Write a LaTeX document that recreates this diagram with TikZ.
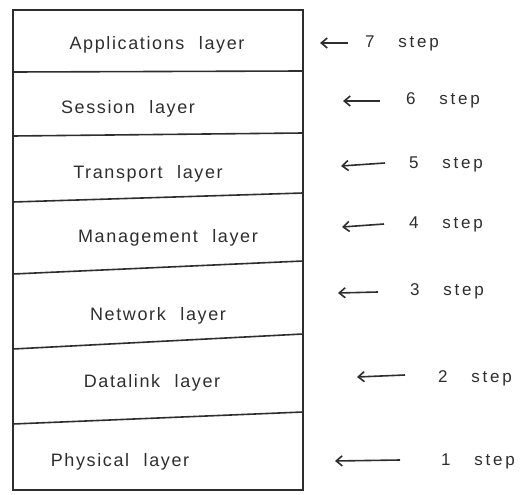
\documentclass[tikz,border=0pt]{standalone}
\usepackage{fontspec}
\setmainfont{Liberation Sans}
\newfontfamily\layerfont[LetterSpace=9,WordSpace=2.2]{Liberation Sans}
\newfontfamily\stepfont[LetterSpace=16,WordSpace=3.2]{Liberation Sans}
\usetikzlibrary{arrows.meta}
\definecolor{ink}{HTML}{2E2E2E}
\tikzset{
  layertext/.style={text=ink, font=\layerfont\fontsize{18}{20}\selectfont, inner sep=0pt},
  steptext/.style={text=ink, font=\stepfont\fontsize{17}{19}\selectfont, inner sep=0pt},
  rule/.style={draw=ink, line width=1.6pt},
  backarrow/.style={draw=ink, line width=1.6pt, -{Straight Barb[length=6pt,width=10pt]}}
}
\begin{document}
\begin{tikzpicture}[x=1pt,y=-1pt]
\useasboundingbox (0,0) rectangle (525,495);

% outer frame of the layer stack
\draw[rule] (13,10) -- (303,10) -- (303,490) -- (13,490) -- cycle;

% dividers between layers
\draw[rule] (13,72) -- (303,71);
\draw[rule] (13,136) -- (303,133);
\draw[rule] (13,202) -- (303,193);
\draw[rule] (13,274) -- (303,261);
\draw[rule] (13,349) -- (303,334);
\draw[rule] (13,424) -- (303,412);

% layer names
\node[layertext] (l7) at (157,45) {Applications layer};
\node[layertext] (l6) at (128,109) {Session layer};
\node[layertext] (l5) at (148,174) {Transport layer};
\node[layertext] (l4) at (168,238) {Management layer};
\node[layertext] (l3) at (158,316) {Network layer};
\node[layertext] (l2) at (152,383) {Datalink layer};
\node[layertext] (l1) at (120,462) {Physical layer};

% step labels
\node[steptext] (s7) at (402,43) {7 step};
\node[steptext] (s6) at (443,100) {6 step};
\node[steptext] (s5) at (446,164) {5 step};
\node[steptext] (s4) at (446,224) {4 step};
\node[steptext] (s3) at (447,291) {3 step};
\node[steptext] (s2) at (475,378) {2 step};
\node[steptext] (s1) at (478,461) {1 step};

% arrow ends
\coordinate (t7) at (348,43);  \coordinate (h7) at (320,43);
\coordinate (t6) at (380,101); \coordinate (h6) at (343,101);
\coordinate (t5) at (385,163); \coordinate (h5) at (341,166);
\coordinate (t4) at (384,224); \coordinate (h4) at (342,227);
\coordinate (t3) at (378,292); \coordinate (h3) at (338,293);
\coordinate (t2) at (405,375); \coordinate (h2) at (357,377);
\coordinate (t1) at (400,460); \coordinate (h1) at (335,461);

\foreach \i in {1,...,7} {
  \draw[backarrow] (t\i) -- (h\i);
}
\end{tikzpicture}
\end{document}
